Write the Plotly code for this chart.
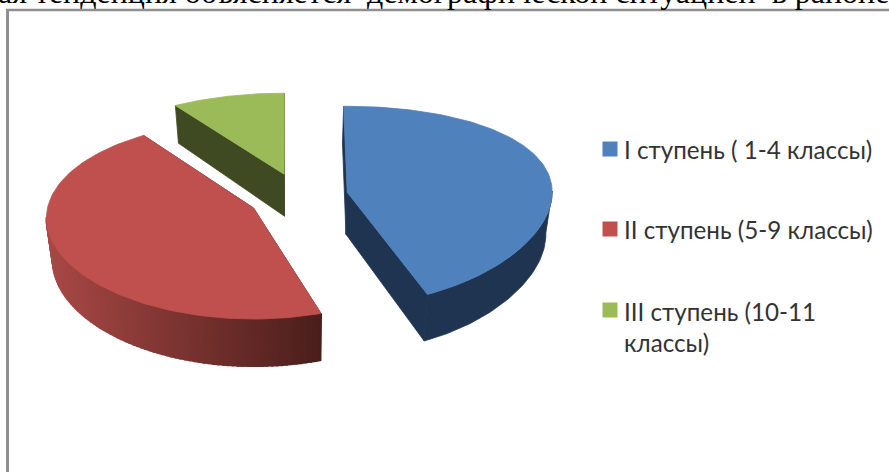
import numpy as np
import plotly.graph_objects as go

categories = ["I ступень ( 1-4 классы)", "II ступень (5-9 классы)", "III ступень (10-11<br>классы)"]
values = [43.6, 47.5, 8.9]
top_colors = ["#4f81bd", "#c0504d", "#9bbb59"]
wall_start = [(31, 52, 80), (168, 72, 69), (63, 74, 34)]
wall_end = [(31, 52, 80), (74, 30, 27), (63, 74, 34)]
face_colors = ["#1f3450", "#4a1e1b", "#3f4a22"]
legend_y = [149, 229, 310]
legend_text_y = [149, 229, 326.5]
heading = "ая тенденция объясняется  демографической ситуацией  в районе"

# drawing geometry of the tilted pie
CX, CY, RX, RY0, EXPLODE, DEPTH, SHRINK = 298.0, 197.0, 205.0, 97.0, 0.245, 42.0, 0.975
START = 90.0
slice_ry = [97.4, 99.0, 81.0]
slice_k = [0.133, 0.02, 0.0]
slice_off = [0.0, 10.0, 0.0]
arc_trim = [(1.0, 0.0), (-4.0, 0.0), (0.0, 0.0)]


def poly(fig, x, y, color, width=0.8):
    fig.add_trace(go.Scatter(x=list(x) + [x[0]], y=list(y) + [y[0]], mode="lines", fill="toself",
                             fillcolor=color, line=dict(color=color, width=width),
                             hoverinfo="skip", showlegend=False))


def rgb(c):
    return "rgb(%d,%d,%d)" % tuple(int(round(a)) for a in c)


fig = go.Figure()
total = sum(values)
spans = []
angle = START
for val in values:
    sweep = 360.0 * val / total
    spans.append((angle, angle - sweep))
    angle -= sweep

for i in [2, 1, 0]:
    a0, a1 = spans[i]
    mid = np.radians((a0 + a1) / 2)
    ax = CX + RX * EXPLODE * np.cos(mid)
    ay = CY - RY0 * EXPLODE * np.sin(mid)
    th = np.radians(np.linspace(a0 + arc_trim[i][0], a1 + arc_trim[i][1], 120))
    w = -np.sin(th)
    xt = ax + (RX + (2 if i == 1 else 0)) * np.cos(th)
    yt = ay + slice_off[i] + slice_ry[i] * w / (1 - slice_k[i] * w)
    dep = DEPTH * (1 + 0.12 * w)
    xb = CX + (xt - CX) * SHRINK
    yb = yt + dep
    axb = CX + (ax - CX) * SHRINK
    ayb = ay + DEPTH

    # radial faces
    for e in [0, -1]:
        poly(fig, [ax, xt[e], xb[e], axb], [ay, yt[e], yb[e], ayb], face_colors[i])

    # outer wall, only the part facing the viewer
    front = [j for j in range(len(th)) if w[j] >= -0.02]
    if front:
        if wall_start[i] == wall_end[i]:
            poly(fig, np.r_[xt[front], xb[front][::-1]], np.r_[yt[front], yb[front][::-1]], rgb(wall_start[i]))
        else:
            lo, hi = min(xt[front]), max(xt[front])
            for j in front[:-1]:
                t = ((xt[j] + xt[j + 1]) / 2 - lo) / max(hi - lo, 1)
                col = [wall_start[i][c] + (wall_end[i][c] - wall_start[i][c]) * t for c in range(3)]
                poly(fig, [xt[j], xt[j + 1], xb[j + 1], xb[j]], [yt[j], yt[j + 1], yb[j + 1], yb[j]], rgb(col), 2)

    # top face
    poly(fig, np.r_[ax, xt], np.r_[ay, yt], top_colors[i])

# legend
fig.add_trace(go.Scatter(x=[610] * 3, y=legend_y, mode="markers",
                         marker=dict(symbol="square", size=15, color=top_colors, line=dict(width=0)),
                         hoverinfo="skip", showlegend=False))
for name, ty in zip(categories, legend_text_y):
    fig.add_annotation(x=622, y=ty, text=name, showarrow=False, xanchor="left", yanchor="middle", align="left",
                       font=dict(family="Lato", size=24.2, color="#333333"))

fig.add_annotation(x=0, xshift=-4, y=12, text=heading, showarrow=False, xanchor="left", yanchor="bottom",
                   font=dict(family="Liberation Serif", size=32, color="#000000"))

fig.add_shape(type="line", x0=7.5, x1=7.5, y0=9, y1=472, line=dict(color="#8f8f8f", width=3), layer="above")
fig.add_shape(type="line", x0=6, x1=889, y0=10, y1=10, line=dict(color="#8f8f8f", width=2.5), layer="above")

fig.update_layout(width=889, height=472, margin=dict(l=0, r=0, t=0, b=0), paper_bgcolor="white",
                  plot_bgcolor="white", showlegend=False,
                  xaxis=dict(range=[0, 889], visible=False, fixedrange=True),
                  yaxis=dict(range=[472, 0], visible=False, fixedrange=True))
fig.write_html("out.html", config=dict(displayModeBar=False),
               post_script="document.body.style.margin='0';document.documentElement.style.overflow='hidden';")
